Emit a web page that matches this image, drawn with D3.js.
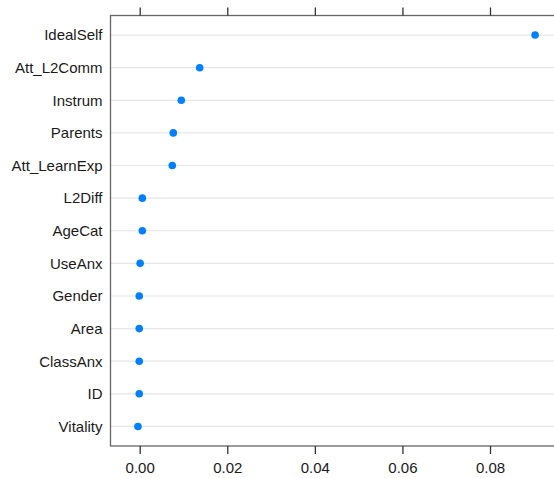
<!DOCTYPE html>
<html>
<head>
<meta charset="utf-8">
<script src="https://cdn.jsdelivr.net/npm/d3@7/dist/d3.min.js"></script>
<style>
  html, body { margin: 0; padding: 0; background: #fff; }
  svg { display: block; }
  text { font-family: "Liberation Sans", Arial, sans-serif; }
</style>
</head>
<body>
<svg id="chart" width="554" height="478"></svg>
<script>
// Data (top to bottom)
const variables = ["IdealSelf", "Att_L2Comm", "Instrum", "Parents", "Att_LearnExp",
  "L2Diff", "AgeCat", "UseAnx", "Gender", "Area", "ClassAnx", "ID", "Vitality"];
const importance = [0.0903, 0.0137, 0.0095, 0.00767, 0.00744,
  0.0006, 0.0006, 0.0001, -0.0001, -0.0001, -0.0001, -0.0001, -0.0004];
const xTicks = [0.00, 0.02, 0.04, 0.06, 0.08];

const svg = d3.select("#chart");
const mLeft = 110.5, mRight = 575, mTop = 15.5, mBottom = 446;

const x = d3.scaleLinear().domain([-0.006668, 0.09941]).range([mLeft, mRight]);
const y = d3.scalePoint().domain(variables).range([mTop, mBottom]).padding(0.6);

// grid lines
svg.append("g").selectAll("line").data(variables).join("line")
  .attr("x1", mLeft).attr("x2", mRight)
  .attr("y1", d => y(d)).attr("y2", d => y(d))
  .attr("stroke", "#e6e6e6").attr("stroke-width", 1.2);

// panel border
svg.append("rect").attr("x", mLeft).attr("y", mTop)
  .attr("width", mRight - mLeft).attr("height", mBottom - mTop)
  .attr("fill", "none").attr("stroke", "#666").attr("stroke-width", 1.3);

// bottom axis
const xAxisB = d3.axisBottom(x).tickValues(xTicks).tickFormat(d3.format(".2f"))
  .tickSize(8).tickSizeOuter(0).tickPadding(8);
const gB = svg.append("g").attr("transform", `translate(0,${mBottom})`).call(xAxisB);
gB.select(".domain").remove();
gB.selectAll(".tick line").attr("stroke", "#333").attr("stroke-width", 1.3);
gB.selectAll(".tick text").attr("font-size", "15px").attr("fill", "#1a1a1a")
  .attr("font-family", "'Liberation Sans', Arial, sans-serif");

// top axis (ticks only)
const xAxisT = d3.axisTop(x).tickValues(xTicks).tickFormat("").tickSize(8).tickSizeOuter(0);
const gT = svg.append("g").attr("transform", `translate(0,${mTop})`).call(xAxisT);
gT.select(".domain").remove();
gT.selectAll(".tick line").attr("stroke", "#333").attr("stroke-width", 1.3);

// y labels
const yAxis = d3.axisLeft(y).tickSize(0).tickPadding(8);
const gL = svg.append("g").attr("transform", `translate(${mLeft},0)`).call(yAxis);
gL.select(".domain").remove();
gL.selectAll(".tick text").attr("font-size", "15px").attr("fill", "#1a1a1a")
  .attr("font-family", "'Liberation Sans', Arial, sans-serif");

// points
svg.append("g").selectAll("circle").data(variables).join("circle")
  .attr("cx", (d, i) => x(importance[i]))
  .attr("cy", d => y(d))
  .attr("r", 3.8)
  .attr("fill", "#0080ff");
</script>
</body>
</html>
